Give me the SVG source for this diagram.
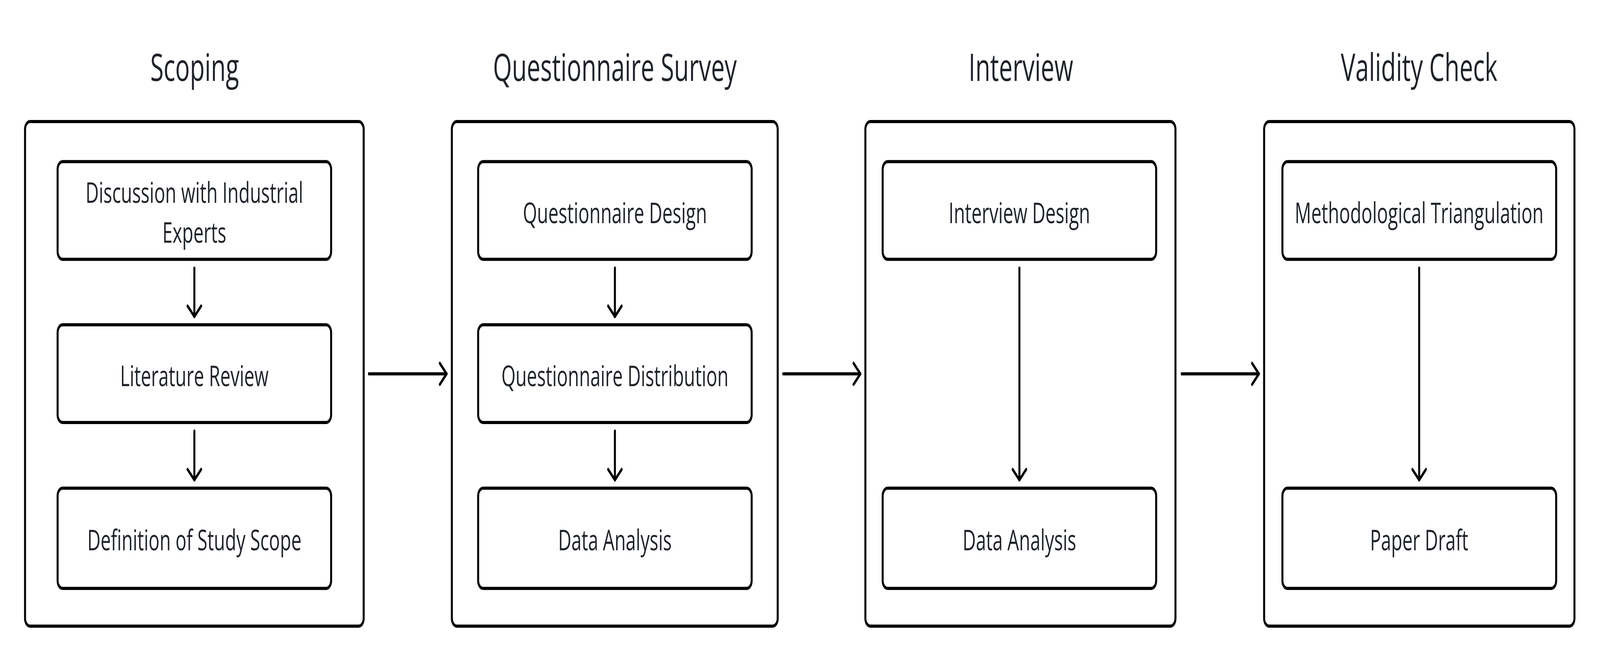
<svg xmlns="http://www.w3.org/2000/svg" width="6388" height="1704" viewBox="0 0 6388 1704" preserveAspectRatio="none" style="width:100%;height:100%;display:block">
<defs>
<style>
.outer{fill:#fff;stroke:#000;stroke-width:8}
.inner{fill:#fff;stroke:#000;stroke-width:8}
.title{font-family:"Open Sans","Noto Sans",sans-serif;font-size:97px;fill:#1f2329;text-anchor:middle}
.label{font-family:"Open Sans","Noto Sans",sans-serif;font-size:73px;fill:#1f2329;text-anchor:middle}
.conn{fill:none;stroke:#000;stroke-width:8;stroke-linecap:round;marker-end:url(#arr)}
</style>
<marker id="arr" markerUnits="userSpaceOnUse" markerWidth="80" markerHeight="80" refX="40" refY="40" orient="auto" overflow="visible">
<path d="M13,13 L40,40 L13,67" fill="none" stroke="#000" stroke-width="8" stroke-linecap="round" stroke-linejoin="round"/>
</marker>
</defs>
<rect width="6388" height="1704" fill="#fff"/>

<g id="stage-scoping">
<text class="title" x="777" y="207">Scoping</text>
<rect class="outer" x="100" y="311" width="1352" height="1291" rx="20"/>
</g>
<g id="stage-questionnaire">
<text class="title" x="2455" y="207">Questionnaire Survey</text>
<rect class="outer" x="1804" y="311" width="1301" height="1291" rx="20"/>
</g>
<g id="stage-interview">
<text class="title" x="4076" y="207">Interview</text>
<rect class="outer" x="3455" y="311" width="1238" height="1291" rx="20"/>
</g>
<g id="stage-validity">
<text class="title" x="5666" y="207">Validity Check</text>
<rect class="outer" x="5047" y="311" width="1239" height="1291" rx="20"/>
</g>

<g id="discussion">
<rect class="inner" x="230" y="413.5" width="1092" height="250" rx="20"/>
<text class="label" x="776" y="519">Discussion with Industrial</text>
<text class="label" x="776" y="621">Experts</text>
</g>
<g id="literature">
<rect class="inner" x="230" y="831" width="1092" height="250" rx="20"/>
<text class="label" x="776" y="988">Literature Review</text>
</g>
<g id="definition">
<rect class="inner" x="230" y="1249" width="1092" height="256.5" rx="20"/>
<text class="label" x="776" y="1408">Definition of Study Scope</text>
</g>

<g id="q-design">
<rect class="inner" x="1909" y="413.5" width="1092" height="250" rx="20"/>
<text class="label" x="2455" y="571">Questionnaire Design</text>
</g>
<g id="q-distribution">
<rect class="inner" x="1909" y="831" width="1092" height="250" rx="20"/>
<text class="label" x="2455" y="988">Questionnaire Distribution</text>
</g>
<g id="q-analysis">
<rect class="inner" x="1909" y="1249" width="1092" height="256.5" rx="20"/>
<text class="label" x="2455" y="1408">Data Analysis</text>
</g>

<g id="i-design">
<rect class="inner" x="3524" y="413.5" width="1092" height="250" rx="20"/>
<text class="label" x="4070" y="571">Interview Design</text>
</g>
<g id="i-analysis">
<rect class="inner" x="3524" y="1249" width="1092" height="256.5" rx="20"/>
<text class="label" x="4070" y="1408">Data Analysis</text>
</g>

<g id="triangulation">
<rect class="inner" x="5120" y="413.5" width="1093" height="250" rx="20"/>
<text class="label" x="5666" y="571">Methodological Triangulation</text>
</g>
<g id="draft">
<rect class="inner" x="5120" y="1249" width="1093" height="256.5" rx="20"/>
<text class="label" x="5666" y="1408">Paper Draft</text>
</g>

<g id="connectors">
<path class="conn" d="M1473,956.5 H1783"/>
<path class="conn" d="M3127,956.5 H3435"/>
<path class="conn" d="M4718,956.5 H5026"/>
<path class="conn" d="M776,686 V810"/>
<path class="conn" d="M776,1103 V1228"/>
<path class="conn" d="M2455,686 V810"/>
<path class="conn" d="M2455,1103 V1228"/>
<path class="conn" d="M4070,686 V1228"/>
<path class="conn" d="M5666,686 V1228"/>
</g>
</svg>
